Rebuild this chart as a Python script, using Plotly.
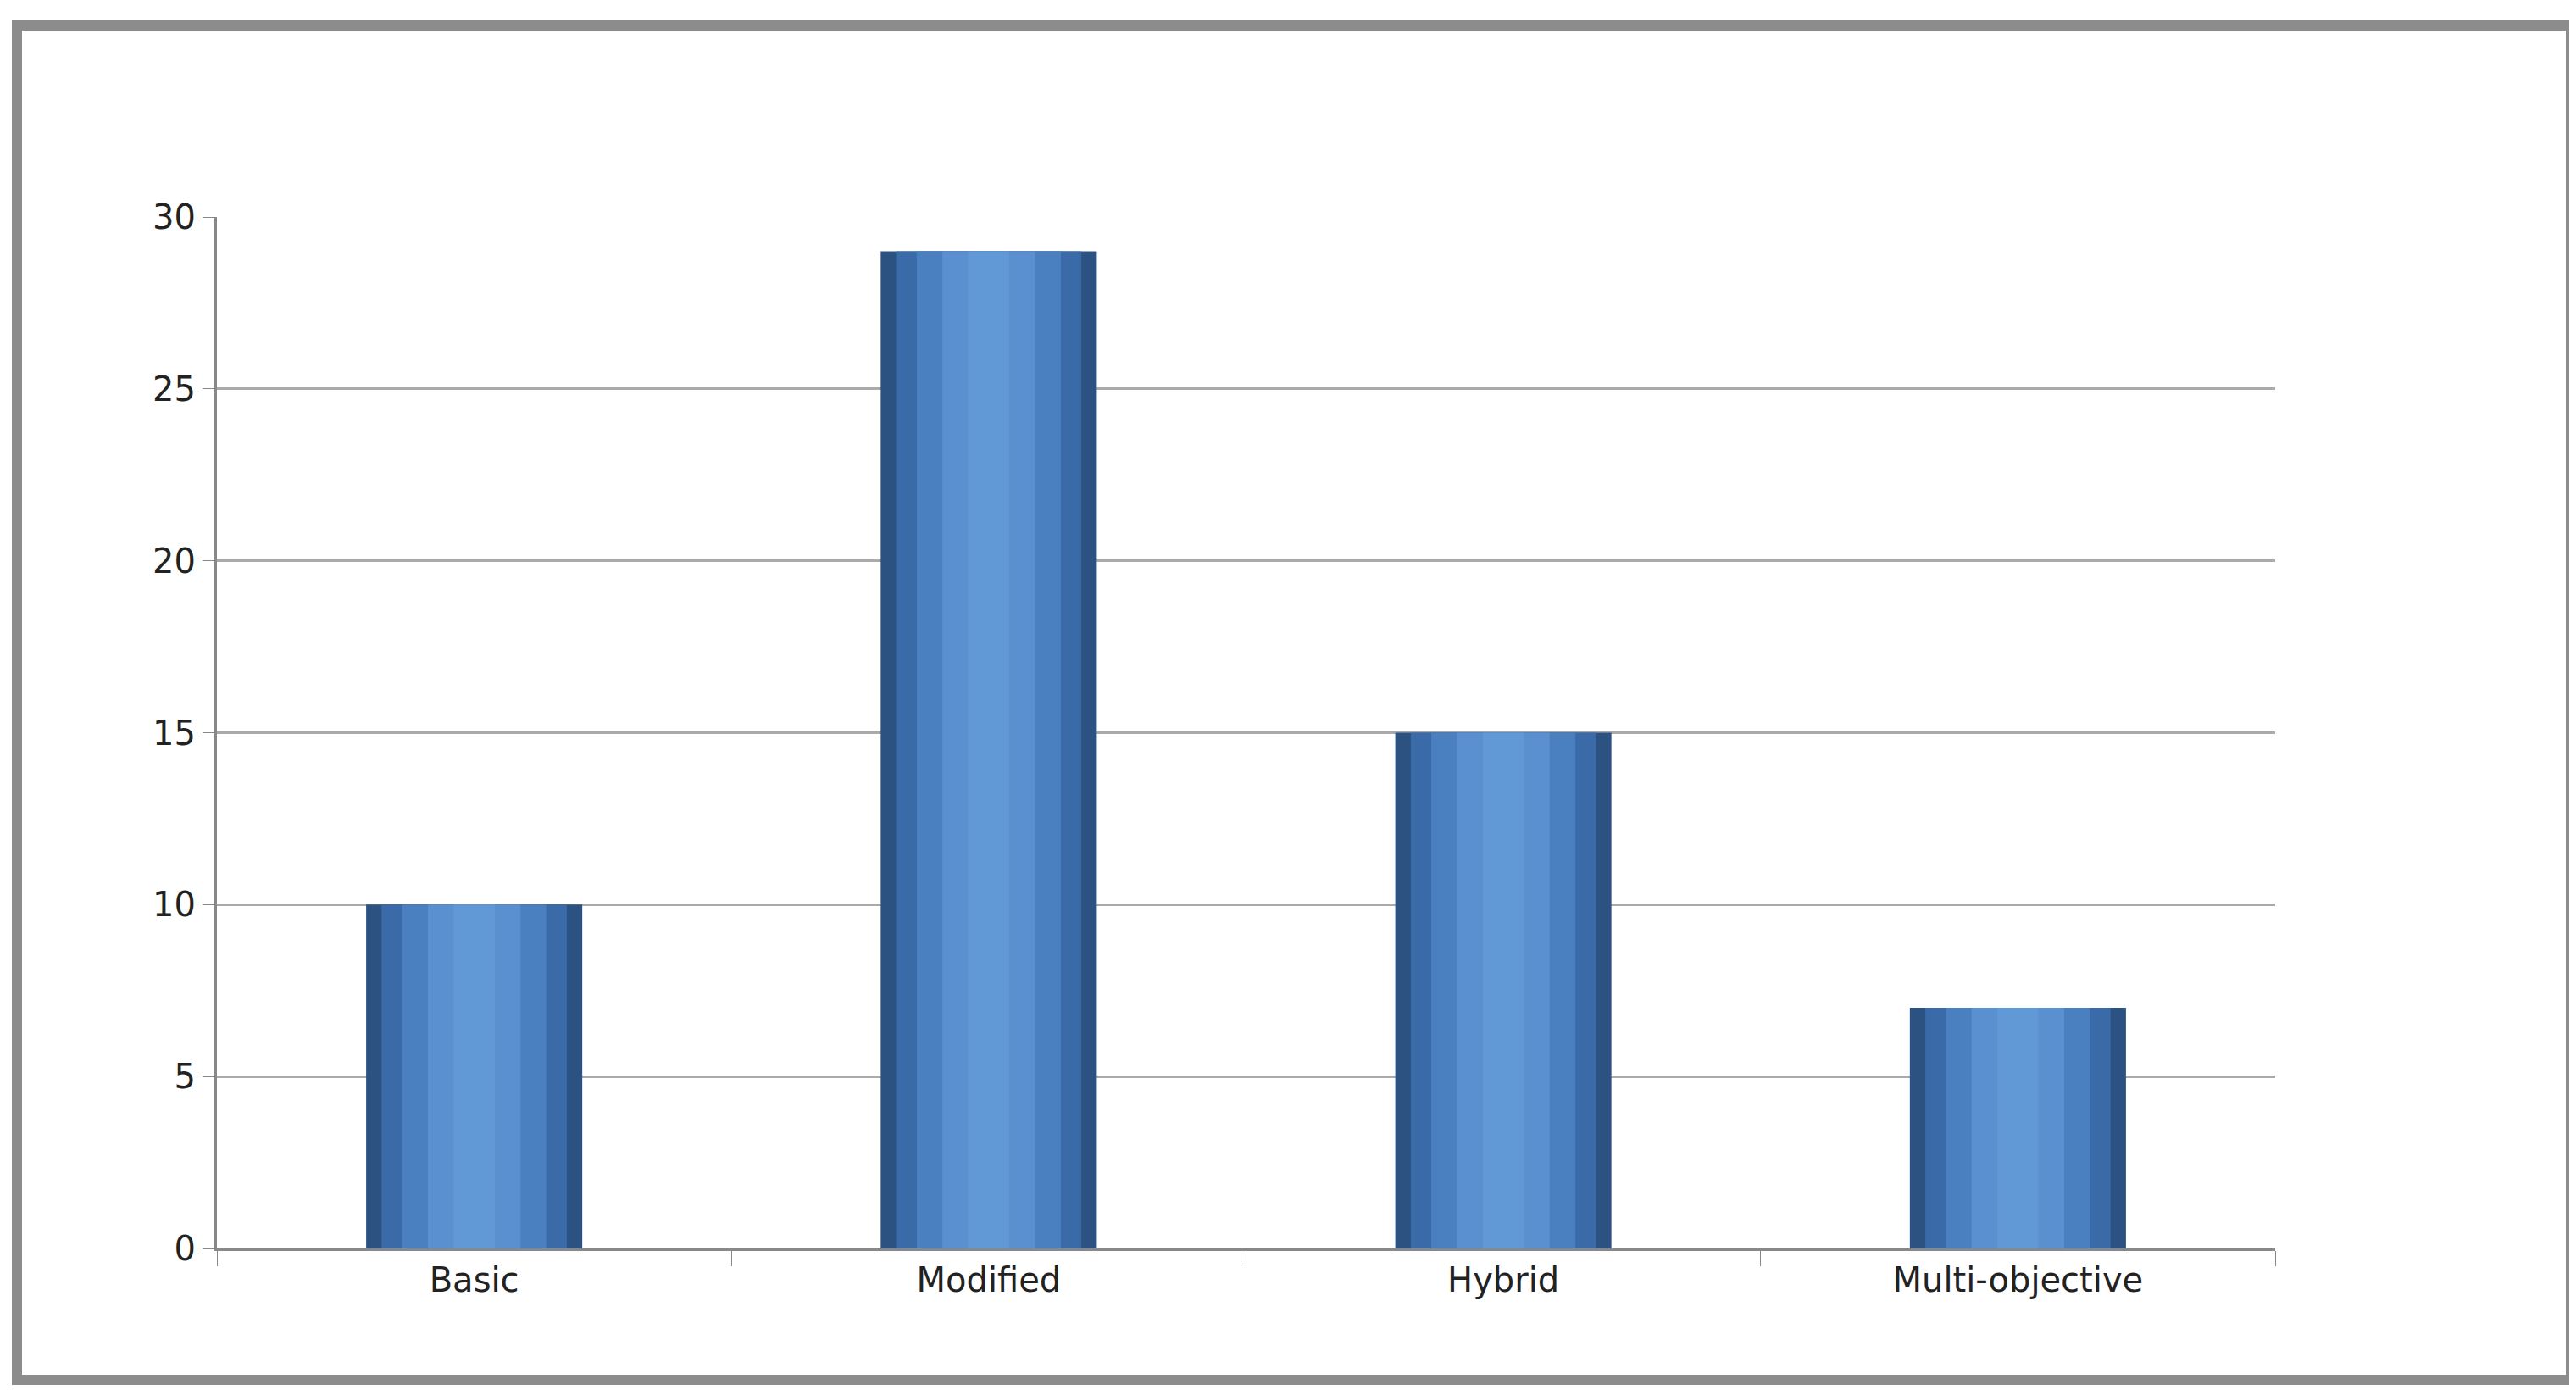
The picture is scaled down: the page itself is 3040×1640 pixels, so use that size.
import plotly.graph_objects as go

categories = ["Basic", "Modified", "Hybrid", "Multi-objective"]
values = [10, 29, 15, 7]
y_ticks = [0, 5, 10, 15, 20, 25, 30]

fig = go.Figure()
layers = [(0.42, "#2c5282"), (0.36, "#3a6aa8"), (0.28, "#4a7fc0"), (0.18, "#5a8fd0"), (0.08, "#6199d6")]
for w, c in layers:
    fig.add_trace(go.Bar(x=categories, y=values, width=w, marker=dict(color=c, line=dict(width=0)),
                         hoverinfo="skip", showlegend=False))

fig.update_layout(
    width=3040, height=1640, barmode="overlay",
    paper_bgcolor="white", plot_bgcolor="white",
    margin=dict(l=248, r=363, t=248, b=175),
    font=dict(family="DejaVu Sans", size=38, color="#222"),
    xaxis=dict(showline=True, linecolor="#888", linewidth=3, ticks="outside", ticklen=18,
               tickson="boundaries", tickcolor="#888", showgrid=False, tickfont=dict(size=40)),
    yaxis=dict(range=[0, 30], tickvals=y_ticks, showline=True, linecolor="#888", linewidth=3,
               ticks="outside", ticklen=14, tickcolor="#888", gridcolor="#aaa", gridwidth=3,
               tickfont=dict(size=40), zeroline=False),
)
fig.add_shape(type="rect", xref="paper", yref="paper",
              x0=-248/2429+12/2429, x1=1+(363-14)/2429, y0=-(175-20)/1217, y1=1+(248-22)/1217,
              line=dict(color="#8c8c8c", width=12), fillcolor="rgba(0,0,0,0)")
fig.write_html("out.html")
